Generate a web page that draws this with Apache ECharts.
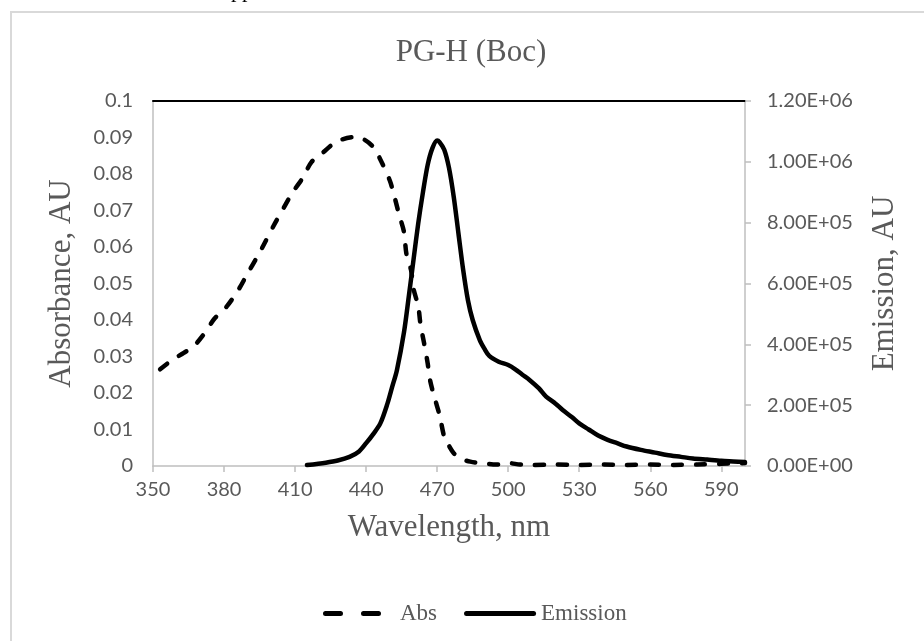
<!DOCTYPE html>
<html>
<head>
<meta charset="utf-8">
<script src="https://cdn.jsdelivr.net/npm/echarts@6/dist/echarts.min.js"></script>
<style>
  html, body { margin: 0; padding: 0; background: #ffffff; }
  #chart { width: 924px; height: 641px; }
</style>
</head>
<body>
<div id="chart"></div>
<script>
// Absorbance spectrum (left axis, AU)
const absWavelengths = [353, 358, 363, 367, 371, 376, 381, 386, 390, 394, 397, 401, 405, 409, 413, 417, 422, 426, 430, 435, 439, 443, 446, 450, 452, 454, 456, 457, 459, 460, 462, 463, 464.5, 466, 467, 469, 471, 473, 475, 477, 480, 484, 490, 495, 500, 505, 510, 520, 530, 540, 550, 560, 570, 580, 590, 600];
const absValues = [0.0265, 0.029, 0.031, 0.0327, 0.0357, 0.0404, 0.0436, 0.0482, 0.0528, 0.0573, 0.0609, 0.0659, 0.0705, 0.075, 0.0787, 0.0833, 0.086, 0.0882, 0.0895, 0.0901, 0.0895, 0.0874, 0.084, 0.0782, 0.0737, 0.0687, 0.0641, 0.0582, 0.0536, 0.0486, 0.0438, 0.0386, 0.0336, 0.0281, 0.0235, 0.0185, 0.014, 0.008, 0.0055, 0.0035, 0.002, 0.0012, 0.0007, 0.0004, 0.0008, 0.0004, 0.0003, 0.0004, 0.0003, 0.0004, 0.0003, 0.0004, 0.0003, 0.0004, 0.0006, 0.0008];

// Emission spectrum (right axis, AU)
const emWavelengths = [415, 423, 428, 433, 437, 440, 443, 446, 449, 451, 453, 456, 458, 460, 462, 464, 466, 468, 470, 471, 473, 475, 477, 479, 481, 483, 485, 488, 490, 492, 496, 500, 503, 506, 509, 513, 516, 520, 523, 527, 530, 534, 538, 542, 546, 550, 556, 562, 567, 573, 578, 584, 590, 595, 600];
const emValues = [3000, 11000, 18000, 30000, 48000, 75000, 105000, 140000, 205000, 260000, 315000, 440000, 556000, 677000, 797000, 900000, 990000, 1045000, 1070000, 1065000, 1040000, 980000, 885000, 764000, 644000, 545000, 480000, 414000, 385000, 362000, 343000, 332000, 318000, 300000, 283000, 255000, 228000, 205000, 184000, 160000, 140000, 120000, 100000, 86000, 75000, 64000, 53000, 44000, 36000, 30000, 25000, 21000, 17000, 15000, 13000];

const seriesNames = ['Abs', 'Emission'];
const chartTitle = 'PG-H (Boc)';
const xAxisTitle = 'Wavelength, nm';
const leftAxisTitle = 'Absorbance, AU';
const rightAxisTitle = 'Emission, AU';

const zip = (xs, ys) => xs.map((x, i) => [x, ys[i]]);

const GREY_TEXT = '#595959';
const AXIS_GREY = '#bfbfbf';
const SERIF = '"Liberation Serif", "Times New Roman", serif';
const SANS = 'Lato, "Open Sans", sans-serif';

// Scientific tick format, e.g. 1.20E+06
function sciLabel(v) {
  if (v === 0) return '0.00E+00';
  const exp = Math.floor(Math.log10(Math.abs(v)));
  const mant = v / Math.pow(10, exp);
  const sign = exp < 0 ? '-' : '+';
  return mant.toFixed(2) + 'E' + sign + String(Math.abs(exp)).padStart(2, '0');
}

// Legend sample glyphs (72 x 5 box): two rounded dashes, and one rounded bar
const DASH_ICON = 'path://M2.5,0h15a2.5,2.5 0 0 1 0,5h-15a2.5,2.5 0 0 1 0,-5z' +
  'M40.5,0h15a2.5,2.5 0 0 1 0,5h-15a2.5,2.5 0 0 1 0,-5z' +
  'M71.98,2.49L72,2.5L71.98,2.51z M0,0.001L0.01,0L0,0.002z';
const SOLID_ICON = 'path://M2.5,0h67a2.5,2.5 0 0 1 0,5h-67a2.5,2.5 0 0 1 0,-5z';

const chart = echarts.init(document.getElementById('chart'), null, { renderer: 'canvas' });

chart.setOption({
  backgroundColor: '#ffffff',
  animation: false,
  legend: {
    left: 318,
    top: 597,
    itemWidth: 72,
    itemHeight: 5,
    itemGap: 27,
    symbolKeepAspect: false,
    textStyle: { fontFamily: SERIF, fontSize: 23, color: GREY_TEXT },
    data: [
      { name: seriesNames[0], icon: DASH_ICON, itemStyle: { color: '#000000' } },
      { name: seriesNames[1], icon: SOLID_ICON, itemStyle: { color: '#000000' } }
    ]
  },
  grid: { left: 153, right: 179, top: 101, bottom: 175, containLabel: false },
  xAxis: [
    {
      type: 'value',
      min: 350,
      max: 600,
      interval: 30,
      name: xAxisTitle,
      nameLocation: 'middle',
      nameGap: 46,
      nameTextStyle: { fontFamily: SERIF, fontSize: 31, color: GREY_TEXT },
      axisLine: { show: true, lineStyle: { color: AXIS_GREY, width: 1.5 } },
      axisTick: { show: true, length: 6, lineStyle: { color: AXIS_GREY, width: 1.5 } },
      axisLabel: { fontFamily: SANS, fontSize: 20, color: GREY_TEXT, margin: 14, showMaxLabel: false },
      splitLine: { show: false }
    },
    {
      // top frame line of the plot
      type: 'value',
      position: 'top',
      min: 350,
      max: 600,
      axisLine: { show: true, onZero: false, lineStyle: { color: '#000000', width: 2 } },
      axisTick: { show: false },
      axisLabel: { show: false },
      splitLine: { show: false }
    }
  ],
  yAxis: [
    {
      type: 'value',
      min: 0,
      max: 0.1,
      interval: 0.01,
      name: leftAxisTitle,
      nameLocation: 'middle',
      nameGap: 76,
      nameTextStyle: { fontFamily: SERIF, fontSize: 31, color: GREY_TEXT },
      axisLine: { show: true, lineStyle: { color: AXIS_GREY, width: 1.5 } },
      axisTick: { show: false },
      axisLabel: {
        fontFamily: SANS, fontSize: 20, color: GREY_TEXT, margin: 20,
        formatter: v => String(parseFloat(v.toFixed(2)))
      },
      splitLine: { show: false }
    },
    {
      type: 'value',
      min: 0,
      max: 1200000,
      interval: 200000,
      position: 'right',
      name: rightAxisTitle,
      nameLocation: 'middle',
      nameGap: 124,
      nameRotate: 90,
      nameTextStyle: { fontFamily: SERIF, fontSize: 31, color: GREY_TEXT },
      axisLine: { show: true, lineStyle: { color: AXIS_GREY, width: 1.5 } },
      axisTick: { show: true, inside: false, length: 6, lineStyle: { color: AXIS_GREY, width: 1.5 } },
      axisLabel: { fontFamily: SANS, fontSize: 20, color: GREY_TEXT, margin: 22, formatter: sciLabel },
      splitLine: { show: false }
    }
  ],
  series: [
    {
      name: seriesNames[0],
      type: 'line',
      xAxisIndex: 0,
      yAxisIndex: 0,
      data: zip(absWavelengths, absValues),
      smooth: 0.3,
      symbol: 'none',
      lineStyle: { color: '#000000', width: 4.5, type: [9, 14], cap: 'round', join: 'round' },
      itemStyle: { color: '#000000' },
      z: 3
    },
    {
      name: seriesNames[1],
      type: 'line',
      xAxisIndex: 0,
      yAxisIndex: 1,
      data: zip(emWavelengths, emValues),
      smooth: 0.3,
      symbol: 'none',
      lineStyle: { color: '#000000', width: 4.5, cap: 'round', join: 'round' },
      itemStyle: { color: '#000000' },
      z: 4
    }
  ],
  graphic: [
    {
      type: 'rect',
      silent: true,
      shape: { x: 11, y: 12, width: 1000, height: 700 },
      style: { fill: 'none', stroke: '#d9d9d9', lineWidth: 2 }
    },
    {
      type: 'text',
      silent: true,
      x: 471,
      y: 53,
      style: { text: chartTitle, font: '31px ' + SERIF, fill: GREY_TEXT, align: 'center', verticalAlign: 'middle' }
    },
    {
      type: 'text',
      silent: true,
      x: 231,
      y: -9,
      style: { text: 'pp', font: '22px ' + SERIF, fill: '#000000', verticalAlign: 'middle' }
    }
  ]
});
</script>
</body>
</html>
